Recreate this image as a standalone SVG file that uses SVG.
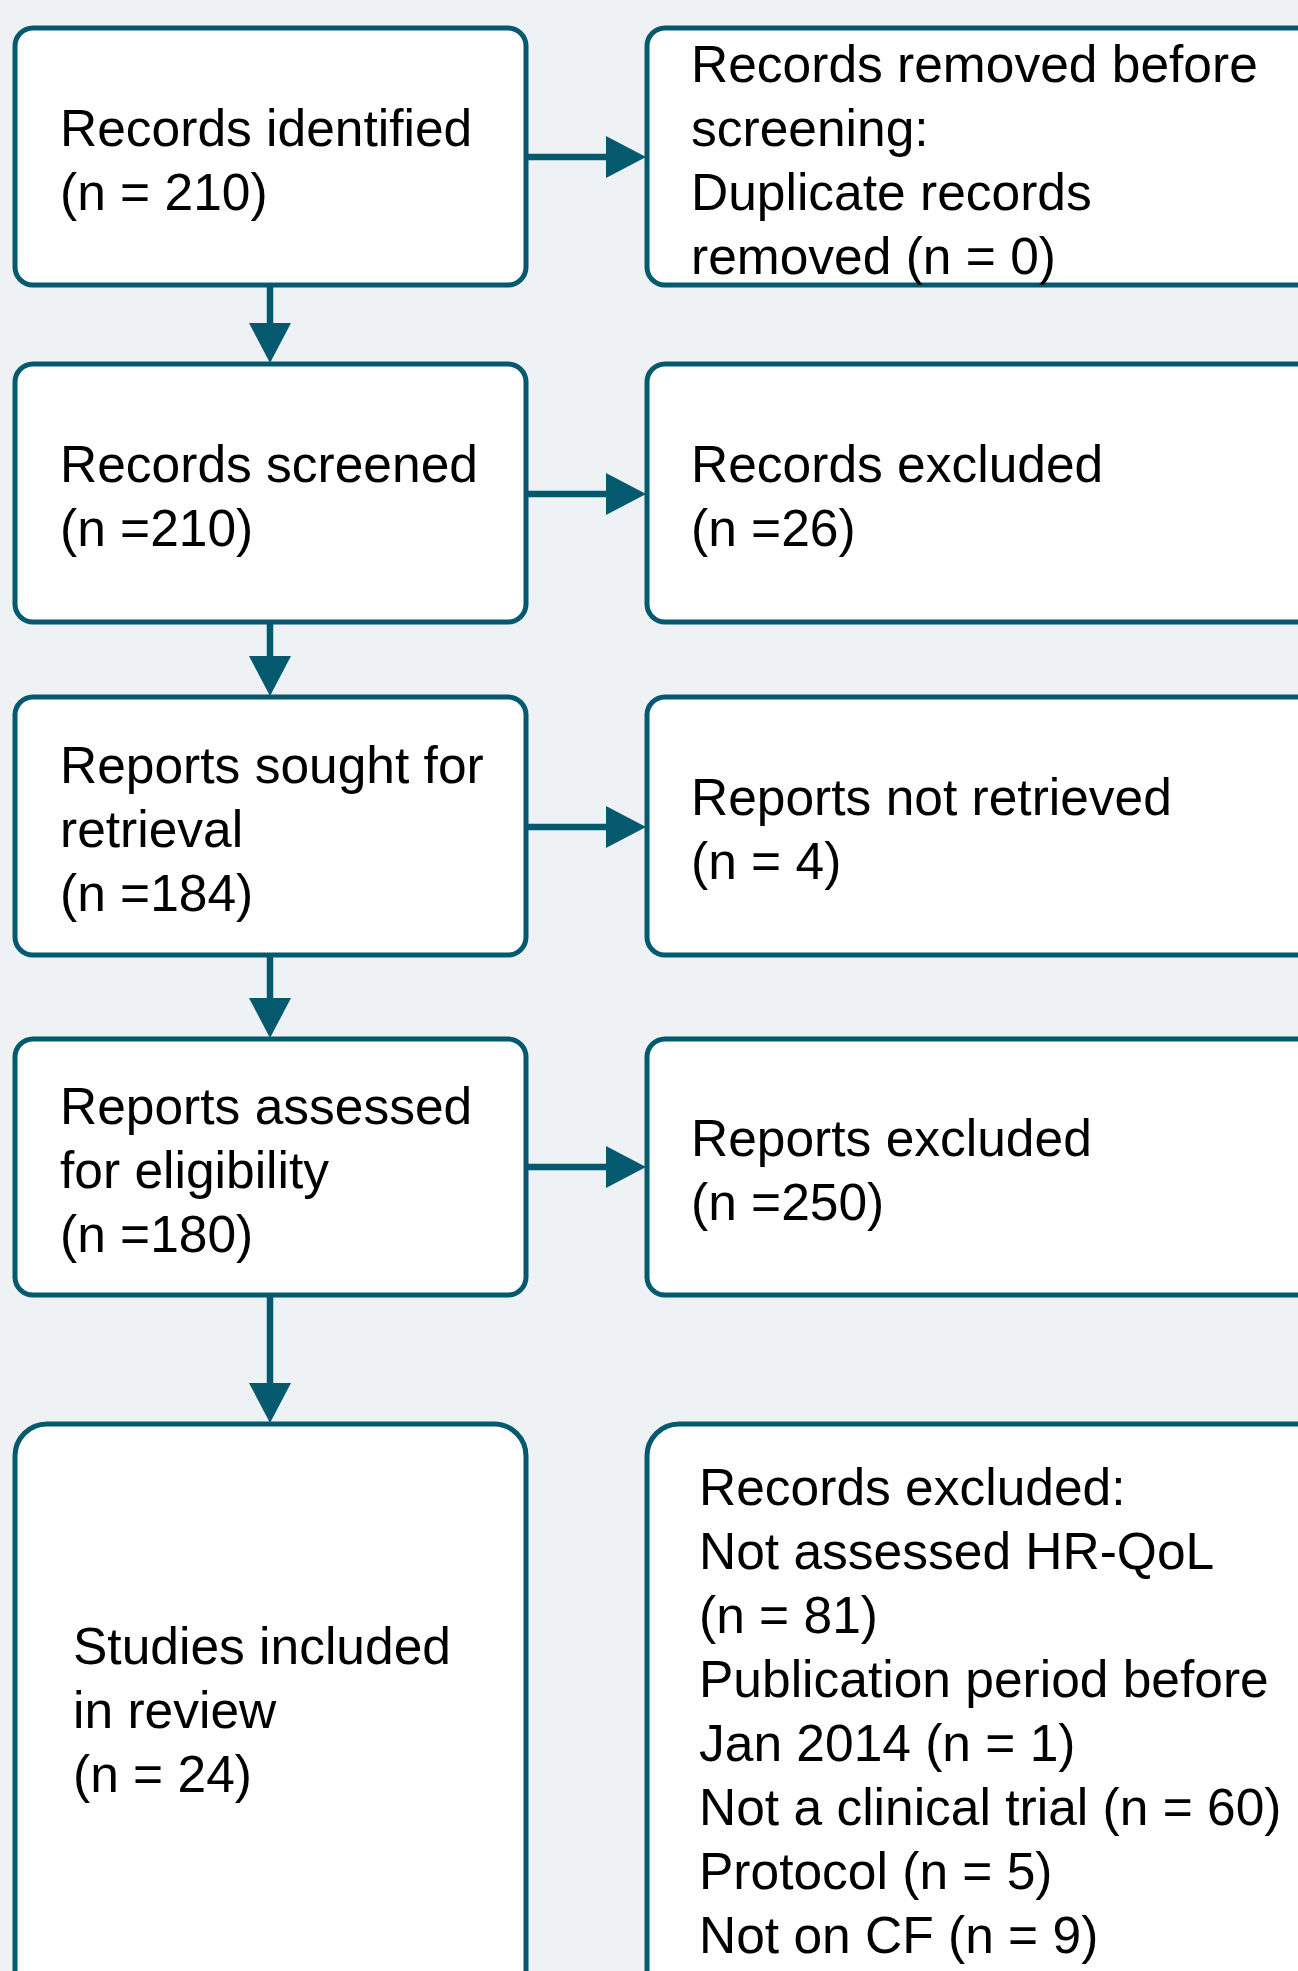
<svg xmlns="http://www.w3.org/2000/svg" width="1298" height="1971" viewBox="0 0 1298 1971">
<style>
.bx{fill:#ffffff;stroke:#04596F;stroke-width:5}
.t{font-family:"Liberation Sans",Arial,sans-serif;font-size:51.5px;fill:#000000}
.c{stroke:#04596F;stroke-width:6.5;fill:none}
</style>
<defs>
<marker id="ah" viewBox="0 0 40 42" refX="1" refY="21" markerWidth="40" markerHeight="42" markerUnits="userSpaceOnUse" orient="auto">
<path d="M0,0 L40,21 L0,42 z" fill="#04596F"/>
</marker>
</defs>
<rect width="1298" height="1971" fill="#EEF2F5"/>
<g id="connectors">
<line class="c" x1="526" y1="157" x2="607" y2="157" marker-end="url(#ah)"/>
<line class="c" x1="526" y1="494" x2="607" y2="494" marker-end="url(#ah)"/>
<line class="c" x1="526" y1="827" x2="607" y2="827" marker-end="url(#ah)"/>
<line class="c" x1="526" y1="1167" x2="607" y2="1167" marker-end="url(#ah)"/>
<line class="c" x1="270" y1="285" x2="270" y2="324" marker-end="url(#ah)"/>
<line class="c" x1="270" y1="622" x2="270" y2="657" marker-end="url(#ah)"/>
<line class="c" x1="270" y1="955" x2="270" y2="999" marker-end="url(#ah)"/>
<line class="c" x1="270" y1="1295" x2="270" y2="1384" marker-end="url(#ah)"/>
</g>
<g id="n1">
<rect class="bx" x="15" y="28" width="511" height="257" rx="18"/>
<text class="t" x="60" y="146">Records identified<tspan x="60" dy="64">(n = 210)</tspan></text>
</g>
<g id="n2">
<rect class="bx" x="647" y="28" width="700" height="257" rx="18"/>
<text class="t" x="691" y="82">Records removed before<tspan x="691" dy="64">screening:</tspan><tspan x="691" dy="64">Duplicate records</tspan><tspan x="691" dy="64">removed (n = 0)</tspan></text>
</g>
<g id="n3">
<rect class="bx" x="15" y="364" width="511" height="258" rx="18"/>
<text class="t" x="60" y="482">Records screened<tspan x="60" dy="64">(n =210)</tspan></text>
</g>
<g id="n4">
<rect class="bx" x="647" y="364" width="700" height="258" rx="18"/>
<text class="t" x="691" y="482">Records excluded<tspan x="691" dy="64">(n =26)</tspan></text>
</g>
<g id="n5">
<rect class="bx" x="15" y="697" width="511" height="258" rx="18"/>
<text class="t" x="60" y="783">Reports sought for<tspan x="60" dy="64">retrieval</tspan><tspan x="60" dy="64">(n =184)</tspan></text>
</g>
<g id="n6">
<rect class="bx" x="647" y="697" width="700" height="258" rx="18"/>
<text class="t" x="691" y="815">Reports not retrieved<tspan x="691" dy="64">(n = 4)</tspan></text>
</g>
<g id="n7">
<rect class="bx" x="15" y="1039" width="511" height="256" rx="18"/>
<text class="t" x="60" y="1124">Reports assessed<tspan x="60" dy="64">for eligibility</tspan><tspan x="60" dy="64">(n =180)</tspan></text>
</g>
<g id="n8">
<rect class="bx" x="647" y="1039" width="700" height="256" rx="18"/>
<text class="t" x="691" y="1156">Reports excluded<tspan x="691" dy="64">(n =250)</tspan></text>
</g>
<g id="n9">
<rect class="bx" x="15" y="1424" width="511" height="620" rx="32"/>
<text class="t" x="73" y="1664">Studies included<tspan x="73" dy="64">in review</tspan><tspan x="73" dy="64">(n = 24)</tspan></text>
</g>
<g id="n10">
<rect class="bx" x="647" y="1424" width="700" height="620" rx="32"/>
<text class="t" x="699" y="1505">Records excluded:<tspan x="699" dy="64">Not assessed HR-QoL</tspan><tspan x="699" dy="64">(n = 81)</tspan><tspan x="699" dy="64">Publication period before</tspan><tspan x="699" dy="64">Jan 2014 (n = 1)</tspan><tspan x="699" dy="64">Not a clinical trial (n = 60)</tspan><tspan x="699" dy="64">Protocol (n = 5)</tspan><tspan x="699" dy="64">Not on CF (n = 9)</tspan></text>
</g>
</svg>
